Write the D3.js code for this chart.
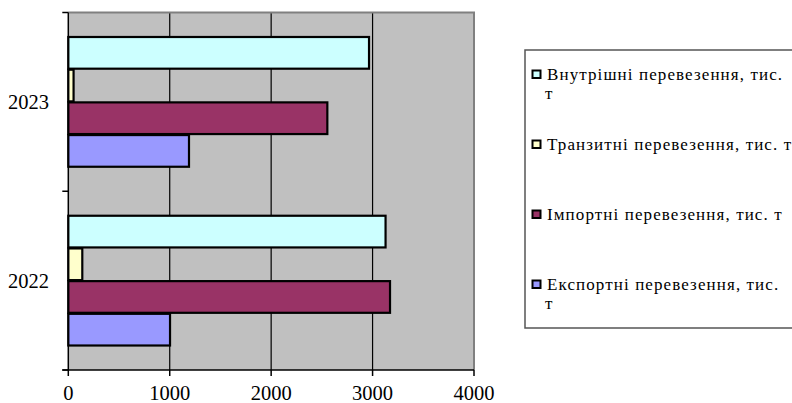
<!DOCTYPE html>
<html>
<head>
<meta charset="utf-8">
<script src="https://cdn.jsdelivr.net/npm/d3@7"></script>
<style>
  html, body { margin: 0; padding: 0; background: #fff; }
  svg { display: block; font-family: "Liberation Serif", serif; }
</style>
</head>
<body>
<svg id="chart" width="792" height="403"></svg>
<script>
// ---- data ----
const years = ["2023", "2022"];
const seriesNames = [
  "Внутрішні перевезення, тис. т",
  "Транзитні перевезення, тис. т",
  "Імпортні перевезення, тис. т",
  "Експортні перевезення, тис. т"
];
const internalValues = [2965, 3128];
const transitValues = [52, 138];
const importValues = [2554, 3172];
const exportValues = [1190, 1003];
const xTicks = [0, 1000, 2000, 3000, 4000];
const legendLines = [
  ["Внутрішні перевезення, тис.", "т"],
  ["Транзитні перевезення, тис. т"],
  ["Імпортні перевезення, тис. т"],
  ["Експортні перевезення, тис.", "т"]
];
const seriesColors = ["#CCFFFF", "#FFFFCC", "#993366", "#9999FF"];

const seriesValues = [internalValues, transitValues, importValues, exportValues];
const FONT = "\"Liberation Serif\"";

// ---- layout ----
const svg = d3.select("#chart");
const plot = { left: 68.3, right: 474, top: 12.5, bottom: 370 };

const x = d3.scaleLinear().domain([0, 4000]).range([plot.left, plot.right]);
const y = d3.scaleBand().domain(years).range([plot.top, plot.bottom])
  .paddingInner(0.2685).paddingOuter(0.13425);
const ySub = d3.scaleBand().domain(d3.range(seriesNames.length)).range([0, y.bandwidth()]);

// plot background
svg.append("rect")
  .attr("x", plot.left).attr("y", plot.top)
  .attr("width", plot.right - plot.left).attr("height", plot.bottom - plot.top)
  .attr("fill", "#C0C0C0");

// grid lines
svg.append("g").selectAll("line")
  .data(xTicks.filter(d => d > 0 && d < 4000))
  .join("line")
  .attr("x1", d => x(d)).attr("x2", d => x(d))
  .attr("y1", plot.top).attr("y2", plot.bottom)
  .attr("stroke", "#000").attr("stroke-width", 1.2);

// plot border (top & right)
svg.append("path")
  .attr("d", `M${plot.left},${plot.top}H${plot.right}V${plot.bottom}`)
  .attr("fill", "none").attr("stroke", "#808080").attr("stroke-width", 2);

// bars
const groups = svg.append("g").selectAll("g")
  .data(years)
  .join("g")
  .attr("transform", d => `translate(0,${y(d)})`);

groups.selectAll("rect")
  .data((yr, yi) => seriesValues.map((vals, si) => ({ si, v: vals[yi] })))
  .join("rect")
  .attr("x", x(0))
  .attr("y", d => ySub(d.si) + 0.5)
  .attr("width", d => x(d.v) - x(0))
  .attr("height", ySub.bandwidth() - 1)
  .attr("fill", d => seriesColors[d.si])
  .attr("stroke", "#000").attr("stroke-width", 2.2);

// left axis
const yTickPos = [plot.top, plot.top + (plot.bottom - plot.top) / 2, plot.bottom];
svg.append("line")
  .attr("x1", plot.left).attr("x2", plot.left)
  .attr("y1", plot.top).attr("y2", plot.bottom)
  .attr("stroke", "#000").attr("stroke-width", 1.5);
svg.append("g").selectAll("line").data(yTickPos).join("line")
  .attr("x1", plot.left - 6).attr("x2", plot.left)
  .attr("y1", d => d).attr("y2", d => d)
  .attr("stroke", "#000").attr("stroke-width", 1.5);

svg.append("g").selectAll("text").data(years).join("text")
  .attr("x", 49)
  .attr("y", d => y(d) + y.bandwidth() / 2)
  .attr("dy", "0.35em")
  .attr("text-anchor", "end")
  .attr("font-family", "Liberation Serif")
  .style("font-family", FONT)
  .style("font-size", "20.5px")
  .text(d => d);

// bottom axis
svg.append("line")
  .attr("x1", plot.left - 6).attr("x2", plot.right)
  .attr("y1", plot.bottom).attr("y2", plot.bottom)
  .attr("stroke", "#000").attr("stroke-width", 1.5);
svg.append("g").selectAll("line").data(xTicks).join("line")
  .attr("x1", d => x(d)).attr("x2", d => x(d))
  .attr("y1", plot.bottom).attr("y2", plot.bottom + 6)
  .attr("stroke", "#000").attr("stroke-width", 1.5);
svg.append("g").selectAll("text").data(xTicks).join("text")
  .attr("x", d => x(d))
  .attr("y", 400)
  .attr("text-anchor", "middle")
  .attr("font-family", "Liberation Serif")
  .style("font-family", FONT)
  .style("font-size", "20.5px")
  .text(d => d);

// legend frame (right side runs off the page)
svg.append("path")
  .attr("d", "M800,50H525V328H800")
  .attr("fill", "#fff").attr("stroke", "#555").attr("stroke-width", 1.5);

const legendBase = [80, 150, 220, 290];
const lg = svg.append("g").selectAll("g")
  .data(seriesNames)
  .join("g");
lg.append("rect")
  .attr("x", 532.5).attr("y", (d, i) => legendBase[i] - 9.5)
  .attr("width", 8).attr("height", 7.5)
  .attr("fill", (d, i) => seriesColors[i])
  .attr("stroke", "#000").attr("stroke-width", 2);
lg.each(function (d, i) {
  const t = d3.select(this).append("text")
    .attr("x", 547).attr("y", legendBase[i])
    .attr("font-family", "Liberation Serif")
    .style("font-family", FONT)
    .style("font-size", "17px")
    .style("letter-spacing", "1.1px");
  legendLines[i].forEach((line, li) => {
    t.append("tspan")
      .attr("x", li === 0 ? 547 : 545)
      .attr("y", legendBase[i] + li * 18.5)
      .text(line);
  });
});
</script>
</body>
</html>
